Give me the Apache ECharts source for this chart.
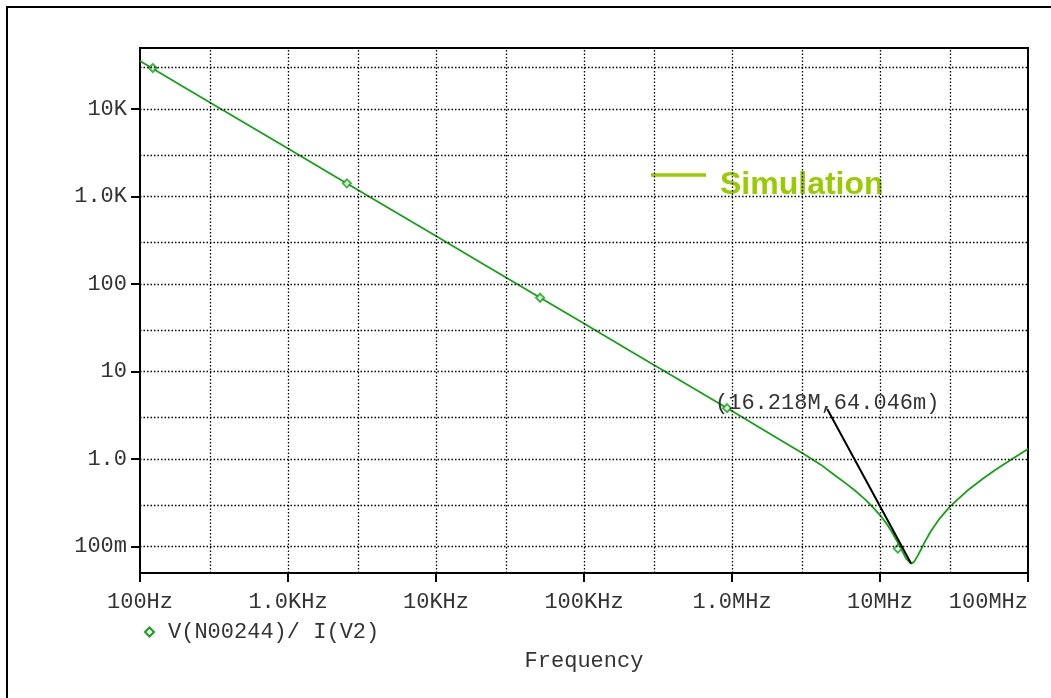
<!DOCTYPE html>
<html lang="en">
<head>
<meta charset="utf-8">
<script src="https://cdn.jsdelivr.net/npm/echarts@6/dist/echarts.min.js"></script>
<style>
  html, body { margin: 0; padding: 0; background: #fff; }
  #main { width: 1051px; height: 698px; }
</style>
</head>
<body>
<div id="main"></div>
<script type="text/javascript">
// impedance trace (Hz, ohm)
var freq = [100, 200, 500, 1e3, 2e3, 5e3, 1e4, 2e4, 5e4, 1e5, 2e5, 5e5, 1e6, 2e6, 3e6, 4e6,
            5e6, 6e6, 7e6, 8e6, 9e6, 10e6, 11e6, 12e6, 13e6, 14e6, 15e6, 16.218e6, 17e6, 18e6,
            19e6, 20e6, 22e6, 25e6, 30e6, 40e6, 50e6, 60e6, 80e6, 100e6];
var impedance = [35500, 17700, 7100, 3550, 1770, 710, 355, 177, 71, 35.5, 17.7, 7.1, 3.55, 1.76, 1.17, 0.86,
                 0.645, 0.515, 0.418, 0.342, 0.28, 0.229, 0.186, 0.148, 0.117, 0.092, 0.073, 0.064, 0.067, 0.079,
                 0.094, 0.112, 0.149, 0.205, 0.292, 0.454, 0.605, 0.75, 1.03, 1.31];

// trace symbols
var markerFreq = [122, 2500, 50500, 925000, 13.2e6];
var markerZ = [29500, 1420, 70, 3.83, 0.095];

// axis ticks and labels
var xTicks = [100, 1e3, 1e4, 1e5, 1e6, 1e7, 1e8];
var xTickLabels = ['100Hz', '1.0KHz', '10KHz', '100KHz', '1.0MHz', '10MHz', '100MHz'];
var yTicks = [0.1, 1, 10, 100, 1000, 10000];
var yTickLabels = ['100m', '1.0', '10', '100', '1.0K', '10K'];

// dotted grid lines
var xGrid = [300, 1e3, 3e3, 1e4, 3e4, 1e5, 3e5, 1e6, 3e6, 1e7, 3e7];
var yGrid = [0.1, 0.3, 1, 3, 10, 30, 100, 300, 1000, 3000, 1e4, 3e4];

// cursor readout
var cursorF = 16.218e6;
var cursorZ = 0.064046;
var cursorText = '(16.218M,64.046m)';

var traceName = 'V(N00244)/ I(V2)';
var green = '#12a312';
var mono = '"Courier New", "Liberation Mono", monospace';

function pickLabel(ticks, labels) {
    return function (v) {
        for (var i = 0; i < ticks.length; i++) {
            if (Math.abs(Math.log10(ticks[i]) - Math.log10(v)) < 1e-6) return labels[i];
        }
        return '';
    };
}

var curve = freq.map(function (f, i) { return [f, impedance[i]]; });
var markers = markerFreq.map(function (f, i) { return [f, markerZ[i]]; });
var gridLines = xGrid.map(function (v) { return { xAxis: v }; })
    .concat(yGrid.map(function (v) { return { yAxis: v }; }));

var myChart = echarts.init(document.getElementById('main'));
myChart.setOption({
    animation: false,
    backgroundColor: '#fff',
    grid: {
        left: 140, top: 48, right: 23, bottom: 125,
        outerBoundsMode: 'none', containLabel: false,
        show: true, borderColor: '#000', borderWidth: 2
    },
    legend: {
        data: [{ name: traceName, icon: 'emptyDiamond' }],
        left: 144, top: 621, padding: 0,
        itemWidth: 9, itemHeight: 9,
        itemStyle: { borderWidth: 2 },
        textStyle: { fontFamily: mono, fontSize: 22, color: '#333', padding: [0, 0, 0, 9] }
    },
    xAxis: {
        type: 'log', logBase: 10, min: 100, max: 1e8,
        name: 'Frequency', nameLocation: 'middle', nameGap: 77,
        nameTextStyle: { fontFamily: mono, fontSize: 22, color: '#333' },
        axisLine: { lineStyle: { color: '#000', width: 2 } },
        axisTick: { length: 9, customValues: xTicks, lineStyle: { color: '#000', width: 2 } },
        axisLabel: {
            customValues: xTicks, margin: 18, alignMaxLabel: 'right',
            fontFamily: mono, fontSize: 22, color: '#333',
            formatter: pickLabel(xTicks, xTickLabels)
        },
        splitLine: { show: false }
    },
    yAxis: {
        type: 'log', logBase: 10, min: 0.05, max: 50000,
        axisLine: { lineStyle: { color: '#000', width: 2 } },
        axisTick: { length: 9, customValues: yTicks, lineStyle: { color: '#000', width: 2 } },
        axisLabel: {
            customValues: yTicks, margin: 13,
            fontFamily: mono, fontSize: 22, color: '#333',
            formatter: pickLabel(yTicks, yTickLabels)
        },
        splitLine: { show: false }
    },
    series: [
        {
            // carrier for the dotted grid
            name: 'grid', type: 'line', data: [], z: 1, silent: true,
            markLine: {
                silent: true, symbol: ['none', 'none'],
                label: { show: false },
                lineStyle: { color: '#000', width: 1.3, type: [1.5, 2] },
                data: gridLines
            }
        },
        {
            name: traceName, type: 'line', data: curve, z: 3,
            showSymbol: false, lineStyle: { color: green, width: 1.8 },
            itemStyle: { color: green },
            markLine: {
                silent: true, symbol: ['none', 'none'],
                label: { show: false },
                lineStyle: { color: '#000', width: 2, type: 'solid' },
                data: [[{ coord: [4.4e6, 3.75] }, { coord: [cursorF, cursorZ] }]]
            },
            markPoint: {
                silent: true, symbol: 'circle', symbolSize: 1,
                itemStyle: { color: 'transparent' },
                label: {
                    show: true, position: 'inside', offset: [0, -6],
                    fontFamily: mono, fontSize: 22, color: '#333',
                    formatter: cursorText
                },
                data: [{ coord: [4.4e6, 3.75] }]
            }
        },
        {
            name: traceName, type: 'scatter', data: markers, z: 4,
            symbol: 'emptyDiamond', symbolSize: 8,
            itemStyle: { color: green, borderColor: green, borderWidth: 1.5 }
        }
    ],
    graphic: [
        {
            type: 'rect', silent: true,
            shape: { x: 7, y: 7, width: 1200, height: 900 },
            style: { fill: 'none', stroke: '#000', lineWidth: 2 }
        },
        {
            type: 'line', silent: true,
            shape: { x1: 651, y1: 175, x2: 706, y2: 175 },
            style: { stroke: '#99cc00', lineWidth: 3.5 }
        },
        {
            type: 'text', silent: true, left: 720, top: 169,
            style: {
                text: 'Simulation', fill: '#99cc00',
                font: 'bold 32px "Liberation Sans", Arial, sans-serif'
            }
        }
    ]
});
</script>
</body>
</html>
